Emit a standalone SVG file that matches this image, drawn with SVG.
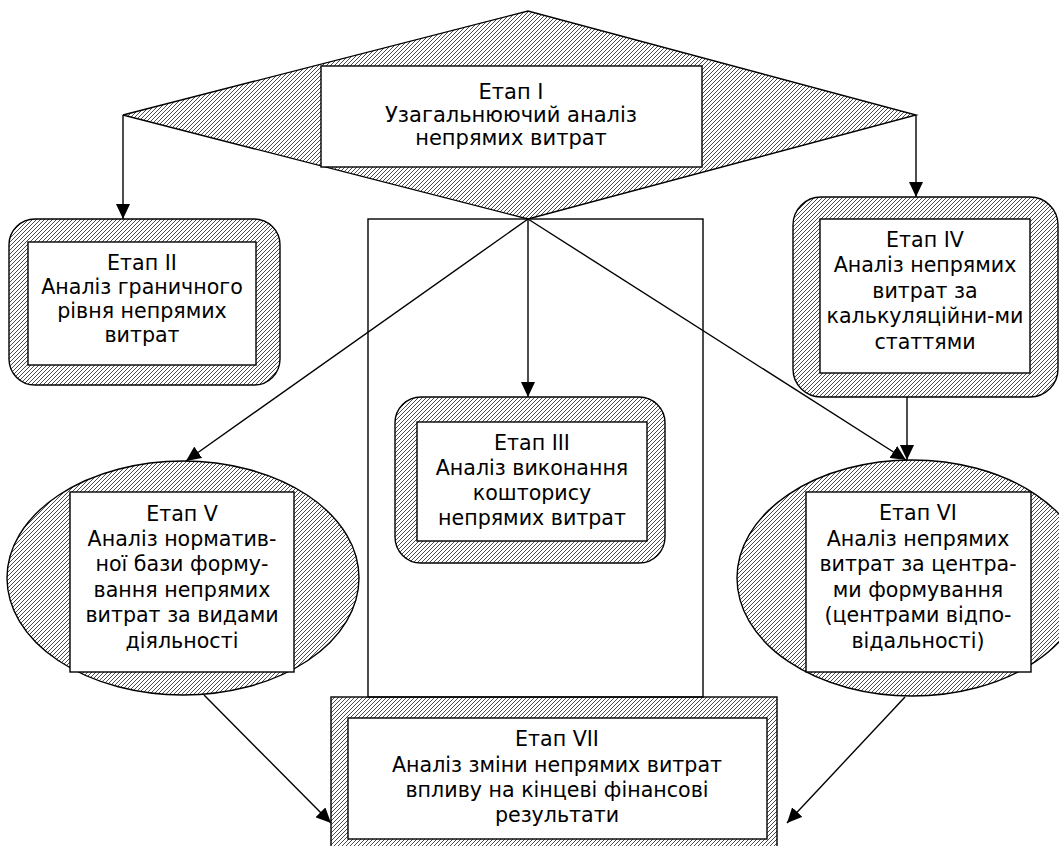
<svg xmlns="http://www.w3.org/2000/svg" width="1059" height="846" viewBox="0 0 1059 846">
<style>
.hatch{fill:url(#h);stroke:#000;stroke-width:1.4}
.box{fill:#fff;stroke:#000;stroke-width:1.4}
.ln{fill:none;stroke:#000;stroke-width:1.4}
text{font-family:"DejaVu Sans","Verdana",sans-serif;font-size:20.6px;fill:#000;text-anchor:middle}
.big{font-size:21px}
</style>
<defs>
<pattern id="h" patternUnits="userSpaceOnUse" width="4" height="4">
<path d="M-1,1 L1,-1 M0,4 L4,0 M3,5 L5,3" stroke="#000" stroke-width="0.7"/>
</pattern>
<marker id="a" markerUnits="userSpaceOnUse" markerWidth="16" markerHeight="14" refX="15" refY="7" orient="auto">
<path d="M0,0 L15,7 L0,14 z" fill="#000"/>
</marker>
</defs>
<rect x="368" y="219" width="335" height="478" class="ln"/>
<g id="connectors">
<line x1="123" y1="115" x2="123" y2="219" class="ln" marker-end="url(#a)"/>
<line x1="916" y1="115" x2="916" y2="197" class="ln" marker-end="url(#a)"/>
<line x1="528" y1="219" x2="528" y2="397" class="ln" marker-end="url(#a)"/>
<line x1="528" y1="219" x2="186" y2="461" class="ln" marker-end="url(#a)"/>
<line x1="528" y1="219" x2="906" y2="460" class="ln" marker-end="url(#a)"/>
<line x1="907" y1="397" x2="907" y2="460" class="ln" marker-end="url(#a)"/>
<line x1="204" y1="695" x2="331" y2="823" class="ln" marker-end="url(#a)"/>
<line x1="905" y1="697" x2="787" y2="823" class="ln" marker-end="url(#a)"/>
</g>
<g id="stage1">
<polygon points="123,115 528,11 916,115 528,219" class="hatch"/>
<rect x="321" y="66" width="381" height="101" class="box"/>
<text class="big" x="511" y="99">Етап I</text>
<text class="big" x="511" y="122">Узагальнюючий аналіз</text>
<text class="big" x="511" y="145">непрямих витрат</text>
</g>
<g id="stage2">
<rect x="9" y="219" width="271" height="166" rx="26" class="hatch"/>
<rect x="28" y="242" width="228" height="123" class="box"/>
<text x="142" y="270">Етап II</text>
<text x="142" y="294">Аналіз граничного</text>
<text x="142" y="318">рівня непрямих</text>
<text x="142" y="342">витрат</text>
</g>
<g id="stage3">
<rect x="395" y="397" width="270" height="166" rx="26" class="hatch"/>
<rect x="417" y="422" width="230" height="119" class="box"/>
<text x="532" y="450">Етап III</text>
<text x="532" y="475">Аналіз виконання</text>
<text x="532" y="500">кошторису</text>
<text x="532" y="525">непрямих витрат</text>
</g>
<g id="stage4">
<rect x="793" y="197" width="265" height="200" rx="28" class="hatch"/>
<rect x="820" y="219" width="210" height="154" class="box"/>
<text x="925" y="247">Етап IV</text>
<text x="925" y="272">Аналіз непрямих</text>
<text x="925" y="298">витрат за</text>
<text x="925" y="323">калькуляційни-ми</text>
<text x="925" y="349">статтями</text>
</g>
<g id="stage5">
<ellipse cx="183" cy="578" rx="176" ry="117" class="hatch"/>
<rect x="70" y="492" width="224" height="180" class="box"/>
<text x="182" y="521">Етап V</text>
<text x="182" y="546">Аналіз норматив-</text>
<text x="182" y="571">ної бази форму-</text>
<text x="182" y="597">вання непрямих</text>
<text x="182" y="622">витрат за видами</text>
<text x="182" y="648">діяльності</text>
</g>
<g id="stage6">
<ellipse cx="912" cy="578" rx="175" ry="118" class="hatch"/>
<rect x="806" y="492" width="225" height="180" class="box"/>
<text x="918" y="520">Етап VI</text>
<text x="918" y="546">Аналіз непрямих</text>
<text x="918" y="571">витрат за центра-</text>
<text x="918" y="597">ми формування</text>
<text x="918" y="622">(центрами відпо-</text>
<text x="918" y="648">відальності)</text>
</g>
<g id="stage7">
<rect x="331" y="697" width="446" height="160" class="hatch"/>
<rect x="348" y="718" width="419" height="121" class="box"/>
<text x="557" y="746">Етап VII</text>
<text x="557" y="772">Аналіз зміни непрямих витрат</text>
<text x="557" y="797">впливу на кінцеві фінансові</text>
<text x="557" y="822">результати</text>
</g>
</svg>
